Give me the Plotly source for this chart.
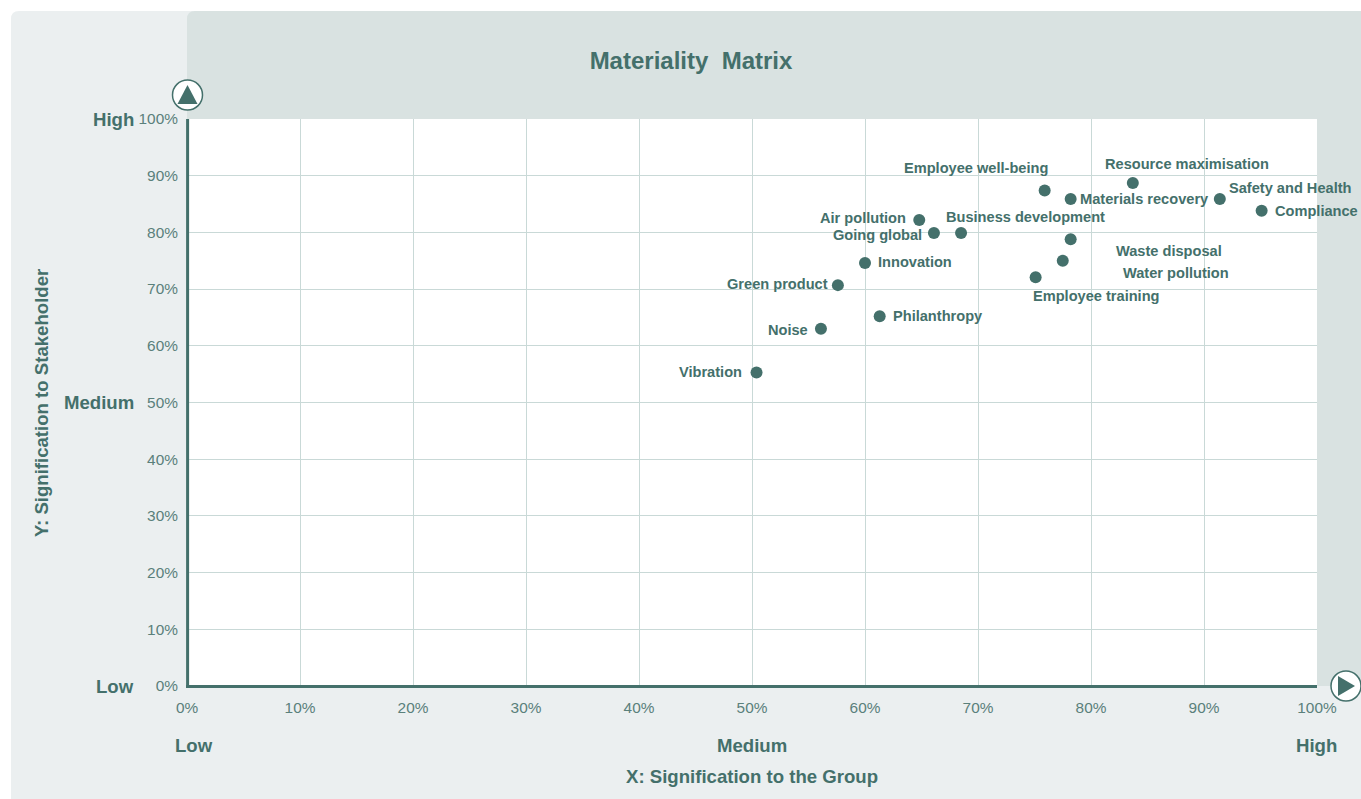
import plotly.graph_objects as go

topics = ["Employee well-being", "Materials recovery", "Resource maximisation", "Safety and Health",
          "Compliance", "Air pollution", "Going global", "Business development", "Waste disposal",
          "Water pollution", "Employee training", "Innovation", "Green product", "Philanthropy",
          "Noise", "Vibration"]
group_pct = [75.9, 78.2, 83.7, 91.4, 95.1, 64.8, 66.1, 68.5, 78.2, 77.5, 75.1, 60.0, 57.6, 61.3, 56.1, 50.4]
stakeholder_pct = [87.4, 85.9, 88.7, 85.9, 83.8, 82.2, 79.9, 79.9, 78.8, 75.0, 72.1, 74.6, 70.7, 65.2, 63.0, 55.3]
tick_values = list(range(0, 101, 10))
tick_labels = [f"{v}%" for v in tick_values]
level_labels = ["Low", "Medium", "High"]
level_values = [0, 50, 100]

W, H = 1361, 799
L, R, T, B = 187, 1317, 119, 686
DARK = "#44706b"
TICK = "#5a807b"
GRID = "#c9d9d7"
LIGHT_BG = "#ebeff0"
MID_BG = "#d9e2e1"
FONT = "Liberation Sans, Arial, sans-serif"

def px(v):
    return (v - L) / (R - L)

def py(v):
    return (B - v) / (B - T)

def rounded(x0, y0, x1, y1, r=8):
    return (f"M {px(x0)} {py(y1)} L {px(x0)} {py(y0 + r)} Q {px(x0)} {py(y0)} {px(x0 + r)} {py(y0)} "
            f"L {px(x1)} {py(y0)} L {px(x1)} {py(y1)} Z")

# label placement: anchor, x shift, y shift in pixels
placement = {
    "Employee well-being": ("right", 5, 22),
    "Materials recovery": ("left", 7, 0),
    "Resource maximisation": ("left", -30, 19),
    "Safety and Health": ("left", 7, 11),
    "Compliance": ("left", 11, 0),
    "Air pollution": ("right", -11, 2),
    "Going global": ("right", -10, -2),
    "Business development": ("left", -17, 16),
    "Waste disposal": ("left", 43, -12),
    "Water pollution": ("left", 58, -12),
    "Employee training": ("left", -5, -19),
    "Innovation": ("left", 11, 1),
    "Green product": ("right", -8, 1),
    "Philanthropy": ("left", 11, 0),
    "Noise": ("right", -11, -1),
    "Vibration": ("right", -13, 0),
}

fig = go.Figure()
fig.add_trace(go.Scatter(x=group_pct, y=stakeholder_pct, mode="markers", text=topics,
                         hoverinfo="text", cliponaxis=False,
                         marker=dict(size=12, color=DARK, line=dict(width=0))))

button = dict(xref="paper", yref="paper", xsizemode="pixel", ysizemode="pixel", layer="above")
shapes = [
    dict(type="path", xref="paper", yref="paper", path=rounded(11, 11, W, H), fillcolor=LIGHT_BG, line_width=0, layer="below"),
    dict(type="path", xref="paper", yref="paper", path=rounded(187, 11, W, B), fillcolor=MID_BG, line_width=0, layer="below"),
    dict(type="rect", xref="paper", yref="paper", x0=0, x1=1, y0=0, y1=1, fillcolor="white", line_width=0, layer="below"),
    # axis lines
    dict(type="line", xref="paper", yref="paper", x0=px(187.6), x1=px(187.6), y0=py(687), y1=py(T), line=dict(color=DARK, width=3), layer="above"),
    dict(type="line", xref="paper", yref="paper", x0=px(186), x1=1, y0=py(686.6), y1=py(686.6), line=dict(color=DARK, width=3), layer="above"),
    # arrow buttons
    dict(button, type="circle", xanchor=px(187.5), yanchor=py(95), x0=-15, x1=15, y0=-15, y1=15,
         fillcolor="white", line=dict(color=DARK, width=1.5)),
    dict(button, type="path", xanchor=px(187.5), yanchor=py(95),
         path="M -10 -9 L 10 -9 L 0 10 Z", fillcolor=DARK, line_width=0),
    dict(button, type="circle", xanchor=px(1346), yanchor=py(686), x0=-15, x1=15, y0=-15, y1=15,
         fillcolor="white", line=dict(color=DARK, width=1.5)),
    dict(button, type="path", xanchor=px(1346), yanchor=py(686),
         path="M -8 10 L -8 -10 L 9 0 Z", fillcolor=DARK, line_width=0),
]

annotations = []
for name, gx, sy in zip(topics, group_pct, stakeholder_pct):
    anchor, dx, dy = placement[name]
    annotations.append(dict(x=gx, y=sy, text=name, showarrow=False, xanchor=anchor, yanchor="middle",
                            xshift=dx, yshift=dy, font=dict(family=FONT, size=14.6, color=DARK, weight="bold")))

level_font = dict(family=FONT, size=18.6, color=DARK, weight="bold")
for lab, v in zip(level_labels, level_values):
    annotations.append(dict(x=0, y=v, text=lab, showarrow=False, xanchor="right", yanchor="middle",
                            xshift=-51, yshift=0, font=level_font))
for lab, v, dx in zip(level_labels, level_values, [7, 0, -1]):
    annotations.append(dict(x=v, y=0, text=lab, showarrow=False, xanchor="center", yanchor="middle",
                            xshift=dx, yshift=-59, font=level_font))
axis_title_font = dict(family=FONT, size=18.6, color=DARK, weight="bold")
annotations.append(dict(xref="paper", yref="paper", x=px(752), y=py(776.5), text="X: Signification to the Group",
                        showarrow=False, xanchor="center", yanchor="middle", font=axis_title_font))
annotations.append(dict(xref="paper", yref="paper", x=px(41), y=py(403), text="Y: Signification to Stakeholder",
                        showarrow=False, xanchor="center", yanchor="middle", textangle=-90, font=axis_title_font))

axis_common = dict(range=[0, 100], tickmode="array", tickvals=tick_values, ticktext=tick_labels,
                   showgrid=True, gridcolor=GRID, gridwidth=1.3, zeroline=False,
                   showline=False, ticks="outside", tickcolor="rgba(0,0,0,0)",
                   tickfont=dict(family=FONT, size=15.4, color=TICK), fixedrange=True, layer="below traces",
                   automargin=False)

fig.update_layout(
    width=W, height=H, autosize=False,
    margin=dict(l=L, r=W - R, t=T, b=H - B, pad=0),
    paper_bgcolor="white", plot_bgcolor="rgba(0,0,0,0)", showlegend=False,
    title=dict(text="Materiality\u00a0 Matrix", x=px(691), xanchor="center", xref="paper",
               y=1 - 61 / H, yanchor="middle", yref="container",
               font=dict(family=FONT, size=24, color=DARK, weight="bold")),
    xaxis=dict(axis_common, ticklen=8),
    yaxis=dict(axis_common, ticklen=5),
    shapes=shapes, annotations=annotations,
)
fig.write_html("out.html", config={"displayModeBar": False},
               post_script="document.body.style.margin='0';document.body.style.overflow='hidden';")
